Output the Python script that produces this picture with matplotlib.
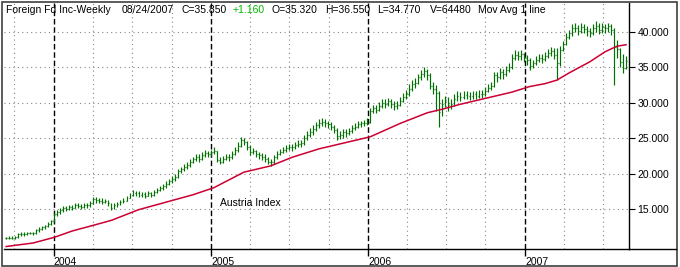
import matplotlib
matplotlib.use('Agg')
import matplotlib.pyplot as plt
import matplotlib.dates as mdates
import numpy as np
import pandas as pd
from datetime import datetime, timedelta

# weekly bars, first week ending 2003-09-12
fechas = pd.date_range('2003-09-12', periods=207, freq='7D')

cierre = [
  10.9, 10.95, 10.9, 11.0, 11.4, 11.5, 11.45, 11.6, 11.55, 11.6,
  12.0, 12.2, 12.4, 12.6, 12.9, 13.3, 14.3, 14.6, 14.9, 15.1,
  15.0, 15.3, 15.2, 15.5, 15.4, 15.3, 15.6, 15.5, 15.8, 16.4,
  16.3, 16.2, 16.0, 16.1, 15.8, 15.2, 15.5, 15.7, 16.0, 16.2,
  16.6, 17.0, 17.3, 17.2, 17.0, 17.1, 16.9, 17.2, 17.0, 17.4,
  17.7, 17.9, 18.2, 18.6, 18.9, 19.3, 19.5, 20.3, 20.6, 20.9,
  21.2, 21.7, 22.0, 22.4, 22.1, 22.6, 22.9, 22.7, 23.0, 23.2,
  21.9, 21.7, 22.1, 22.4, 22.3, 22.8, 23.3, 23.9, 24.8, 24.5,
  23.7, 23.0, 23.2, 22.8, 22.6, 22.4, 22.0, 21.7, 21.6, 22.3,
  22.8, 23.1, 23.4, 23.6, 23.8, 23.7, 24.0, 24.2, 24.3, 25.0,
  25.5, 25.9, 26.3, 26.8, 27.2, 27.3, 27.1, 27.0, 26.6, 26.2,
  25.3, 25.4, 25.9, 25.7, 26.0, 26.4, 26.6, 27.0, 27.1, 27.2,
  27.3, 28.9, 29.2, 29.0, 29.6, 30.0, 29.8, 30.2, 29.9, 29.6,
  29.7, 30.3, 30.8, 31.2, 32.0, 32.6, 32.8, 33.6, 34.0, 34.5,
  33.9, 32.4, 32.0, 31.4, 28.7, 29.9, 30.4, 29.7, 29.9, 30.6,
  31.0, 30.8, 31.1, 31.0, 30.9, 31.2, 31.0, 31.3, 31.2, 31.7,
  32.1, 32.4, 33.9, 33.6, 34.3, 34.0, 34.6, 35.0, 36.4, 36.8,
  36.6, 36.9, 36.3, 36.0, 35.2, 35.6, 36.0, 36.4, 36.2, 36.6,
  37.0, 37.3, 36.8, 35.6, 37.5, 38.3, 39.3, 39.8, 40.5, 40.6,
  40.2, 40.7, 40.4, 40.1, 39.9, 40.5, 40.9, 40.3, 40.7, 40.6,
  40.8, 40.3, 37.9, 37.6, 35.8, 34.9, 35.85]

maximo = [
  11.1, 11.15, 11.15, 11.2, 11.6, 11.7, 11.7, 11.8, 11.8, 11.8,
  12.2, 12.4, 12.6, 12.8, 13.1, 13.5, 14.5, 14.9, 15.2, 15.4,
  15.4, 15.6, 15.6, 15.8, 15.8, 15.7, 15.9, 15.9, 16.1, 16.7,
  16.7, 16.6, 16.5, 16.4, 16.3, 15.9, 15.8, 16.0, 16.3, 16.5,
  16.9, 17.3, 17.7, 17.6, 17.5, 17.4, 17.4, 17.5, 17.4, 17.7,
  18.0, 18.2, 18.5, 19.0, 19.3, 19.7, 19.9, 20.7, 21.0, 21.3,
  21.6, 22.1, 22.4, 22.8, 22.7, 23.0, 23.3, 23.2, 23.4, 23.7,
  23.2, 22.3, 22.5, 22.8, 22.8, 23.2, 23.7, 24.4, 25.2, 25.1,
  24.6, 24.0, 23.6, 23.4, 23.1, 22.9, 22.7, 22.3, 22.1, 22.6,
  23.2, 23.5, 23.8, 24.1, 24.2, 24.2, 24.4, 24.7, 24.7, 25.4,
  26.0, 26.4, 26.8, 27.3, 27.7, 27.8, 27.7, 27.5, 27.3, 26.9,
  26.4, 26.0, 26.3, 26.3, 26.5, 26.8, 27.1, 27.4, 27.5, 27.6,
  27.8, 29.3, 29.7, 29.7, 30.1, 30.6, 30.5, 30.7, 30.6, 30.3,
  30.3, 30.8, 31.4, 31.8, 32.6, 33.2, 33.5, 34.1, 34.6, 35.0,
  34.8, 34.2, 33.0, 32.5, 31.6, 30.6, 31.0, 30.8, 30.5, 31.2,
  31.6, 31.5, 31.6, 31.6, 31.5, 31.7, 31.7, 31.8, 31.8, 32.2,
  32.7, 33.0, 34.4, 34.3, 34.9, 34.8, 35.2, 35.6, 36.9, 37.4,
  37.3, 37.5, 37.1, 36.7, 36.3, 36.1, 36.6, 36.9, 36.9, 37.2,
  37.6, 37.9, 37.8, 37.8, 38.0, 38.8, 39.8, 40.3, 41.1, 41.3,
  41.0, 41.3, 41.2, 40.8, 40.6, 41.1, 41.6, 41.3, 41.3, 41.2,
  41.3, 41.1, 40.5, 38.9, 37.7, 36.9, 36.55]

minimo = [
  10.7, 10.75, 10.7, 10.75, 10.9, 11.25, 11.25, 11.3, 11.4, 11.35,
  11.5, 11.8, 12.0, 12.2, 12.4, 12.7, 13.2, 14.0, 14.3, 14.6,
  14.7, 14.9, 14.9, 15.1, 15.1, 15.0, 15.2, 15.2, 15.3, 15.7,
  15.9, 15.8, 15.7, 15.8, 15.4, 14.9, 15.0, 15.3, 15.5, 15.8,
  16.1, 16.5, 16.8, 16.9, 16.7, 16.7, 16.6, 16.8, 16.7, 16.9,
  17.2, 17.5, 17.7, 18.0, 18.4, 18.7, 19.0, 19.4, 20.1, 20.4,
  20.7, 21.0, 21.5, 21.8, 21.7, 21.9, 22.3, 22.3, 22.5, 22.7,
  21.6, 21.3, 21.5, 21.9, 21.8, 22.1, 22.6, 23.1, 23.7, 24.0,
  23.3, 22.6, 22.7, 22.4, 22.1, 21.9, 21.6, 21.3, 21.1, 21.4,
  22.1, 22.6, 22.9, 23.1, 23.3, 23.2, 23.5, 23.7, 23.8, 24.1,
  24.8, 25.2, 25.5, 26.0, 26.4, 26.7, 26.6, 26.5, 26.1, 25.7,
  24.8, 24.9, 25.1, 25.2, 25.4, 25.8, 26.1, 26.4, 26.6, 26.7,
  26.8, 27.2, 28.6, 28.5, 28.8, 29.3, 29.2, 29.5, 29.3, 29.0,
  29.1, 29.5, 30.1, 30.5, 31.0, 31.7, 32.1, 32.6, 33.2, 33.6,
  33.2, 32.0, 31.2, 28.8, 26.6, 28.2, 29.4, 28.9, 29.1, 29.6,
  30.3, 30.3, 30.5, 30.5, 30.4, 30.6, 30.5, 30.7, 30.7, 31.0,
  31.5, 31.8, 32.2, 33.0, 33.4, 33.4, 33.8, 34.3, 34.8, 36.0,
  36.0, 36.1, 35.7, 35.4, 34.7, 34.9, 35.3, 35.7, 35.6, 35.9,
  36.3, 36.6, 36.2, 33.2, 35.2, 37.3, 38.1, 39.0, 39.5, 40.0,
  39.6, 39.8, 39.8, 39.4, 39.3, 39.6, 40.0, 39.7, 39.8, 39.9,
  40.0, 39.6, 32.5, 36.3, 35.0, 34.2, 34.77]

apertura = [10.85] + cierre[:-1]

# moving average (week index, value)
ma_semana = [0, 9, 16, 22, 29, 35, 44, 56, 62, 69, 79, 88, 95, 104, 112, 121,
             131, 140, 145, 151, 161, 168, 174, 179, 183, 187, 194, 199, 203, 206]
ma_valor = [9.7, 10.2, 11.0, 11.9, 12.7, 13.4, 14.9, 16.3, 17.0, 18.0, 20.2, 21.1,
            22.3, 23.5, 24.3, 25.2, 27.1, 28.6, 29.1, 29.8, 30.8, 31.5, 32.3, 32.7,
            33.2, 34.2, 35.8, 37.2, 38.0, 38.2]

anios = ['2004', '2005', '2006', '2007']
niveles = [15, 20, 25, 30, 35, 40]

verde = '#007000'
rojo = '#cc0033'
fuente = 'Liberation Sans'
tam = 7.5

W, H = 680, 267
fig = plt.figure(figsize=(W/100, H/100), dpi=100)
fig.patch.set_facecolor('white')

def fx(px):
  return px / W

def fy(py):
  return 1 - py / H

ax = fig.add_axes([fx(4), fy(249), fx(629) - fx(4), fy(3) - fy(249)])
ax.set_facecolor('white')

x0 = mdates.date2num(datetime(2003, 9, 7))
x1 = mdates.date2num(datetime(2007, 8, 31))
ax.set_xlim(x0, x1)
ax.set_ylim(9.35, 44.1)

# grid
for a in anios:
  d = mdates.date2num(datetime(int(a), 1, 1))
  ax.axvline(d, color='black', lw=1.0, ls=(0, (4, 2)), zorder=1)
  for m in (4, 7, 10):
    ax.axvline(mdates.date2num(datetime(int(a), m, 1)), color='#888888', lw=0.8, ls=(0, (1, 3)), zorder=1)
ax.axvline(mdates.date2num(datetime(2003, 10, 1)), color='#888888', lw=0.8, ls=(0, (1, 3)), zorder=1)
for n in niveles:
  ax.axhline(n, color='#888888', lw=0.8, ls=(0, (1, 3)), zorder=1)

# bars
t = mdates.date2num(fechas.to_pydatetime())
dd = 2.2
ax.vlines(t, minimo, maximo, color=verde, lw=0.85, zorder=3)
ax.hlines(apertura, t - dd, t, color=verde, lw=0.85, zorder=3)
ax.hlines(cierre, t, t + dd, color=verde, lw=0.85, zorder=3)

# moving average
ax.plot(t[ma_semana], ma_valor, color=rojo, lw=1.1, zorder=4)

ax.text(mdates.date2num(datetime(2005, 1, 22)), 15.9, 'Austria Index', fontsize=tam,
        family=fuente, va='center', ha='left')

for s in ['top', 'left']:
  ax.spines[s].set_visible(False)
ax.spines['right'].set_linewidth(1.0)
ax.spines['bottom'].set_linewidth(1.0)
ax.yaxis.tick_right()
ax.set_yticks(niveles)
ax.set_yticklabels(['%.3f' % n for n in niveles], fontsize=tam, family=fuente)
ax.tick_params(axis='y', length=4, width=0.8, pad=2)
ax.set_xticks([mdates.date2num(datetime(int(a), 1, 1)) for a in anios])
ax.set_xticklabels(anios, fontsize=tam, family=fuente, ha='left')
ax.tick_params(axis='x', length=5, width=1.0, pad=0.5)

# bottom line across the whole figure and outer frame
fig.add_artist(plt.Line2D([fx(629), fx(676)], [fy(249), fy(249)], color='black', lw=1.0))
fig.add_artist(plt.Rectangle((fx(1.5), fy(265.5)), fx(675.5), fy(1.5) - fy(265.5),
                             fill=False, edgecolor='#404040', lw=1.2))

# header
partes = [(6, 'Foreign Fd Inc-Weekly', 'black'), (122, '08/24/2007', 'black'),
          (182, 'C=35.850', 'black'), (233, '+1.160', '#00bb00'),
          (272, 'O=35.320', 'black'), (325, 'H=36.550', 'black'),
          (377, 'L=34.770', 'black'), (430, 'V=64480', 'black'),
          (478, 'Mov Avg 1 line', 'black')]
for px, txt, c in partes:
  fig.text(fx(px), fy(10), txt, fontsize=tam, family=fuente, color=c, va='center', ha='left')

plt.savefig('out.png', dpi=100)
